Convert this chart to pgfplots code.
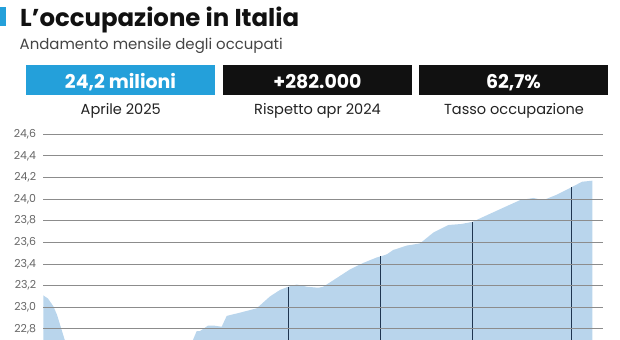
\documentclass[border=0pt]{standalone}
\usepackage{pgfplots}
\pgfplotsset{compat=1.18}
\usepackage{fontspec}
\setmainfont{Poppins}
\definecolor{accent}{HTML}{24A0DA}
\definecolor{boxdark}{HTML}{111111}
\definecolor{titlec}{HTML}{111111}
\definecolor{subc}{HTML}{444444}
\definecolor{labc}{HTML}{222222}
\definecolor{tickc}{HTML}{666666}
\definecolor{gridc}{HTML}{8C8C8C}
\definecolor{areac}{HTML}{B9D5EC}
\definecolor{vlinec}{HTML}{1F3550}
\begin{document}
\begin{tikzpicture}[x=1bp,y=1bp]
\fill[accent] (0,-6.7) rectangle (6,-26);
\node[anchor=base west, inner sep=0, text=titlec, font=\fontsize{24.5}{28}\selectfont\bfseries] at (20,-26) {L’occupazione in Italia};
\node[anchor=base west, inner sep=0, text=subc, font=\fontsize{15}{18}\selectfont] at (19.5,-49.3) {Andamento mensile degli occupati};
% boxes
\fill[accent] (26,-65) rectangle (215,-95);
\fill[boxdark] (223,-65) rectangle (412,-95);
\fill[boxdark] (419,-65) rectangle (608,-95);
\node[anchor=base, inner sep=0, text=white, font=\fontsize{19}{22}\selectfont\bfseries] at (120.5,-88.3) {24,2 milioni};
\node[anchor=base, inner sep=0, text=white, font=\fontsize{19}{22}\selectfont\bfseries] at (317.5,-88.3) {+282.000};
\node[anchor=base, inner sep=0, text=white, font=\fontsize{19}{22}\selectfont\bfseries] at (513.5,-88.3) {62,7\%};
\node[anchor=base, inner sep=0, text=labc, font=\fontsize{14.6}{18}\selectfont] at (120.8,-114) {Aprile 2025};
\node[anchor=base, inner sep=0, text=labc, font=\fontsize{14.6}{18}\selectfont] at (317.5,-114) {Rispetto apr 2024};
\node[anchor=base, inner sep=0, text=labc, font=\fontsize{14.6}{18}\selectfont] at (514,-114) {Tasso occupazione};
\begin{axis}[
  at={(43.3,-124)}, anchor=north west,
  scale only axis, width=560bp, height=238bp,
  xmin=43.3, xmax=603.3, ymin=22.4, ymax=24.6,
  axis line style={draw=none},
  major tick length=0pt,
  xtick=\empty,
  ytick={22.4,22.6,22.8,23.0,23.2,23.4,23.6,23.8,24.0,24.2,24.4,24.6},
  ymajorgrids,
  grid style={gridc, line width=0.9bp},
  axis on top,
  yticklabel style={anchor=east, inner sep=0pt, xshift=-7bp, text=tickc, font=\fontsize{11}{13}\selectfont},
  /pgf/number format/.cd, fixed, fixed zerofill, precision=1, use comma, assume math mode=true,
]
\addplot[fill=areac, draw=none] coordinates {
(43.3,23.11) (48,23.08) (53.3,23.01) (57,22.93) (60,22.84) (65,22.69) (70,22.57)
(80,22.45) (95,22.38) (115,22.40) (135,22.36) (155,22.44) (175,22.54) (188,22.62)
(191.7,22.67) (196.7,22.78) (200,22.78) (208,22.83) (214,22.83) (221.7,22.82)
(226.7,22.92) (240,22.95) (256.7,22.99) (270,23.10) (280,23.16) (288.3,23.19)
(296.7,23.21) (306.7,23.19) (318.3,23.18) (323.3,23.19) (336.7,23.27) (350,23.35)
(363.3,23.41) (376.7,23.46) (380.7,23.47) (387,23.49) (393.3,23.53) (397,23.54)
(406.7,23.57) (420,23.59) (433.3,23.69) (448.3,23.76) (461.7,23.77) (472.7,23.79)
(486.7,23.85) (503.3,23.92) (520,23.99) (533.3,24.01) (543.3,23.99) (556.7,24.04)
(571.7,24.11) (582,24.16) (592.3,24.17)
} \closedcycle;
\addplot[ycomb, draw=vlinec, line width=0.9bp] coordinates {
(193.3,22.70) (288.3,23.19) (380.7,23.47) (472.7,23.79) (571.7,24.11)
};
\end{axis}
\pgfresetboundingbox
\useasboundingbox (0,0) rectangle (620,-339);
\end{tikzpicture}
\end{document}
